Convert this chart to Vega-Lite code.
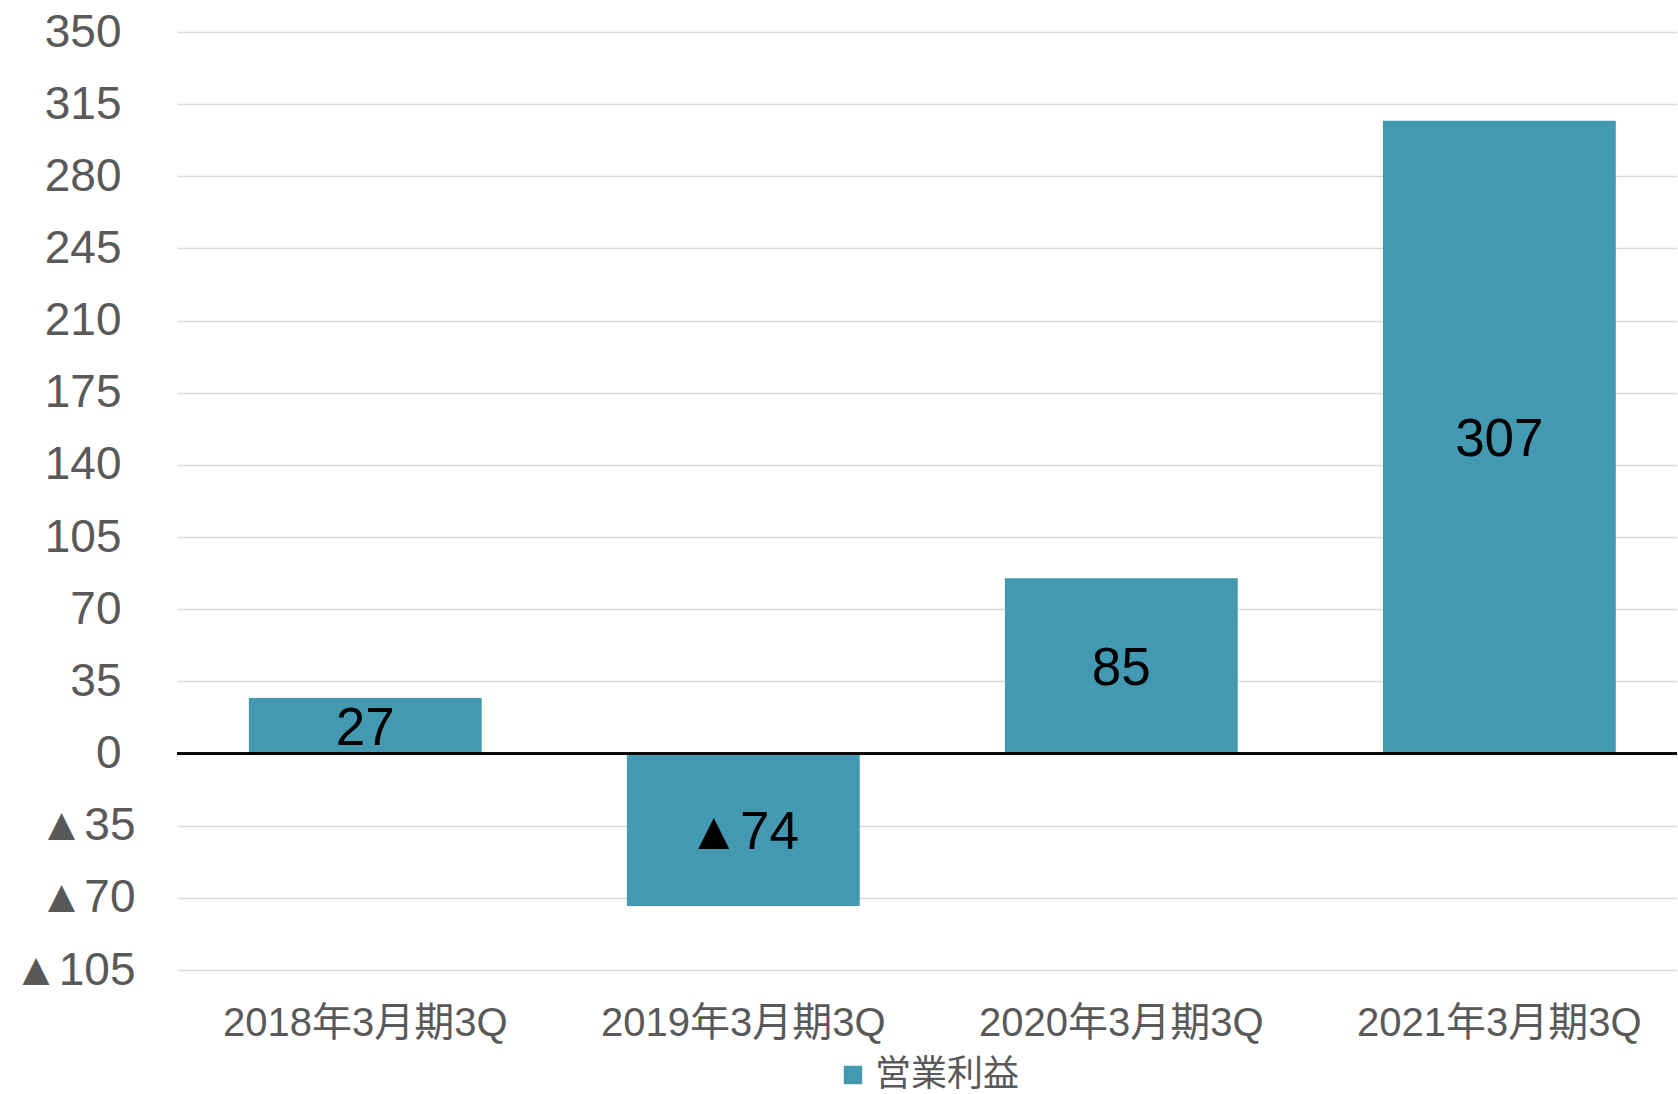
{
  "$schema": "https://vega.github.io/schema/vega-lite/v6.json",
  "width": 1500,
  "height": 938,
  "padding": {"left": 12, "top": 9, "right": 0, "bottom": 0},
  "background": "white",
  "config": {"view": {"stroke": null}, "font": "Liberation Sans, Noto Sans CJK JP",
    "legend": {"layout": {"bottom": {"anchor": "middle"}}}},
  "data": {"values": [
    {"period": "2018年3月期3Q", "series": "営業利益", "value": 27, "label": "27"},
    {"period": "2019年3月期3Q", "series": "営業利益", "value": -74, "label": "▲74"},
    {"period": "2020年3月期3Q", "series": "営業利益", "value": 85, "label": "85"},
    {"period": "2021年3月期3Q", "series": "営業利益", "value": 307, "label": "307"}
  ]},
  "layer": [
    {
      "layer": [
        {
          "mark": {"type": "bar"},
          "encoding": {
            "x": {"field": "period", "type": "nominal", "sort": null, "title": null,
              "scale": {"paddingInner": 0.384, "paddingOuter": 0.176, "align": 0.54},
              "axis": {"domain": false, "ticks": false, "labelAngle": 0, "labelFontSize": 40, "labelColor": "#595959", "labelPadding": 33, "labelLimit": 0, "labelFont": "Liberation Sans, Noto Sans CJK JP"}},
            "y": {"field": "value", "type": "quantitative", "title": null,
              "scale": {"domain": [-105, 350], "nice": false, "zero": false},
              "axis": {"values": [-105, -70, -35, 0, 35, 70, 105, 140, 175, 210, 245, 280, 315, 350],
                "labelExpr": "datum.value < 0 ? '▲' + abs(datum.value) : '' + datum.value",
                "labelFontSize": 46, "labelColor": "#595959",
                "labelPadding": {"condition": {"test": "datum.value < 0", "value": 42}, "value": 56},
                "gridColor": "#d9d9d9", "gridWidth": 1.5, "domain": false, "ticks": false}},
            "color": {"field": "series", "type": "nominal", "scale": {"range": ["#4399b1"]},
              "legend": {"orient": "bottom", "title": null, "direction": "horizontal", "symbolType": "square", "symbolSize": 340, "symbolStrokeWidth": 0, "labelFontSize": 36, "labelColor": "#595959", "offset": 14, "labelFont": "Liberation Sans, Noto Sans CJK JP"}}
          }
        },
        {
          "mark": {"type": "rule", "color": "black", "strokeWidth": 2},
          "encoding": {"y": {"datum": 0}}
        }
      ]
    },
    {
      "mark": {"type": "text", "fontSize": 53, "color": "black", "baseline": "middle", "align": "center", "dy": 3},
      "encoding": {
        "x": {"field": "period", "type": "nominal", "sort": null},
        "y": {"field": "value", "type": "quantitative", "scale": {"domain": [-210, 700], "nice": false, "zero": false}, "axis": null},
        "text": {"field": "label"}
      }
    }
  ],
  "resolve": {"scale": {"y": "independent"}}
}
